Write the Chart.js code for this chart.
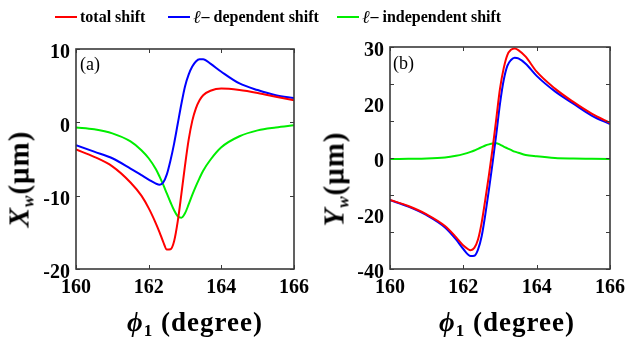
<!DOCTYPE html>
<html>
<head>
<meta charset="utf-8">
<script src="https://cdn.jsdelivr.net/npm/chart.js@4/dist/chart.umd.min.js"></script>
<style>
  body { margin:0; background:#fff; width:632px; height:341px; position:relative; overflow:hidden;
         font-family:"Liberation Serif","Times New Roman",serif; color:#000; }
  canvas { position:absolute; top:0; }
  #cA { left:0; }
  #cB { left:316px; }
  .item { position:absolute; top:7px; height:20px; display:flex; align-items:center; white-space:nowrap;
          font-weight:bold; font-size:16px; }
  .swatch { display:inline-block; width:22px; height:2px; margin-right:3px; }
  .ell { font-weight:normal; font-style:italic; font-size:18px; margin-right:1px; }
  .ytitle { position:absolute; transform:translate(-50%,-50%) rotate(-90deg); font-weight:bold;
            font-size:29px; letter-spacing:1px; white-space:nowrap; }
  .xtitle { position:absolute; transform:translate(-50%,-50%); font-weight:bold; font-size:27px;
            letter-spacing:1px; white-space:nowrap; }
  sub { font-size:17px; vertical-align:-5px; line-height:0; }
  .tag { position:absolute; font-size:18px; }
</style>
</head>
<body>
<canvas id="cA" width="316" height="341"></canvas>
<canvas id="cB" width="316" height="341"></canvas>

<!-- legend -->
<div class="item" style="left:55px"><span class="swatch" style="background:#ff0000"></span>total shift</div>
<div class="item" style="left:168px"><span class="swatch" style="background:#0000ff"></span><span class="ell">ℓ</span>– dependent shift</div>
<div class="item" style="left:337px"><span class="swatch" style="background:#00ee00"></span><span class="ell">ℓ</span>– independent shift</div>

<!-- panel tags & axis titles -->
<div class="tag" style="left:80px;top:54px">(a)</div>
<div class="tag" style="left:393px;top:53px">(b)</div>
<div class="ytitle" style="left:19px;top:179px"><i>X</i><sub><i>w</i></sub>(μm)</div>
<div class="ytitle" style="left:334px;top:179px"><i>Y</i><sub><i>w</i></sub>(μm)</div>
<div class="xtitle" style="left:195px;top:322px"><i>ϕ</i><sub>1</sub> (degree)</div>
<div class="xtitle" style="left:507px;top:322px"><i>ϕ</i><sub>1</sub> (degree)</div>

<script>
/* ── DATA ───────────────────────────────────────────────── */
const angles = [160, 160.5, 161, 161.5, 161.8, 162, 162.2, 162.3, 162.4, 162.5, 162.6, 162.7, 162.8,
                162.9, 163.0, 163.1, 163.2, 163.3, 163.4, 163.5, 163.7, 164, 164.5, 165, 165.5, 166];

// panel (a): Xw (μm)
const totalA = [-3.7, -4.7, -6.0, -8.2, -10.0, -11.7, -13.8, -15.0, -16.3, -17.35, -17.3, -16.2, -13.5,
                -9.8, -5.9, -2.4, 0.2, 1.9, 3.0, 3.7, 4.3, 4.6, 4.4, 4.0, 3.5, 3.0];
const depA   = [-3.1, -4.0, -4.9, -6.3, -7.2, -7.8, -8.35, -8.5, -8.2, -7.1, -5.2, -2.9, -0.2,
                2.5, 4.9, 6.5, 7.6, 8.3, 8.6, 8.6, 8.0, 6.9, 5.3, 4.4, 3.7, 3.3];
const indepA = [-0.7, -0.95, -1.5, -2.6, -3.8, -4.9, -6.4, -7.4, -8.5, -9.7, -10.9, -12.0, -12.8,
                -13.0, -12.4, -11.2, -9.9, -8.7, -7.6, -6.6, -5.1, -3.4, -1.9, -1.1, -0.7, -0.4];

// panel (b): Yw (μm)
const totalB = [-15.1, -17.3, -20.3, -24.5, -28.5, -31.5, -33.2, -32.4, -29.4, -23.3, -14.9, -6.0, 3.6,
                14.3, 25.0, 32.3, 37.1, 39.0, 39.5, 38.9, 36.5, 31.1, 25.0, 20.2, 16.0, 12.7];
const depB   = [-15.2, -17.5, -20.6, -25.0, -29.3, -32.8, -35.3, -35.2, -33.0, -28.2, -20.3, -11.2, -1.6,
                8.7, 19.6, 28.0, 33.2, 35.3, 36.1, 35.9, 34.0, 29.6, 24.0, 19.6, 15.3, 12.2];
const indepB = [-0.4, -0.3, -0.2, 0.2, 0.8, 1.4, 2.2, 2.7, 3.3, 3.9, 4.5, 4.9, 5.2,
                5.3, 4.8, 4.1, 3.5, 2.9, 2.3, 1.9, 1.1, 0.6, 0.0, -0.2, -0.3, -0.4];

const xTicks       = [160, 162, 164, 166];
const yTicksA      = [-20, -10, 0, 10];
const yTicksB      = [-40, -20, 0, 20, 40];
const yTickLabelsB = ["-40", "-20", "0", "20", "30"];   // as printed on the figure
const yMinorB      = [-40, -26.67, -13.33, 0, 13.33, 26.67, 40];

/* ── BOX + INWARD TICKS ─────────────────────────────────── */
const boxPlugin = {
  id: "box",
  afterDraw(chart, args, opts) {
    const { ctx, chartArea: a, scales: { x, y } } = chart;
    ctx.save();
    ctx.strokeStyle = "#3a3a3a";
    ctx.lineWidth = 1;
    ctx.beginPath();
    opts.xTicks.forEach(v => {
      const px = Math.round(x.getPixelForValue(v)) + 0.5;
      ctx.moveTo(px, a.bottom); ctx.lineTo(px, a.bottom - 4);
      ctx.moveTo(px, a.top);    ctx.lineTo(px, a.top + 4);
    });
    opts.yTicks.forEach(v => {
      const py = Math.round(y.getPixelForValue(v)) + 0.5;
      ctx.moveTo(a.left, py);  ctx.lineTo(a.left + 4, py);
      ctx.moveTo(a.right, py); ctx.lineTo(a.right - 4, py);
    });
    ctx.stroke();
    ctx.lineWidth = 1.6;
    ctx.strokeRect(a.left, a.top, a.right - a.left, a.bottom - a.top);
    ctx.restore();
  }
};

const tickFont = { family: "'Liberation Serif', 'Times New Roman', serif", size: 20, weight: "bold" };

function series(vals) {
  return angles.map((a, i) => ({ x: a, y: vals[i] }));
}

function makeChart(id, sets, cfg) {
  return new Chart(document.getElementById(id), {
    type: "line",
    data: {
      datasets: sets.map(s => ({
        data: series(s.vals),
        borderColor: s.color,
        borderWidth: 2,
        pointRadius: 0,
        fill: false,
        cubicInterpolationMode: "monotone"
      }))
    },
    options: {
      responsive: false,
      animation: false,
      layout: { padding: { top: cfg.top, right: cfg.right, bottom: 0, left: 0 } },
      plugins: {
        legend: { display: false },
        tooltip: { enabled: false },
        box: { xTicks: xTicks, yTicks: cfg.minor }
      },
      scales: {
        x: {
          type: "linear", min: 160, max: 166,
          afterBuildTicks: s => { s.ticks = xTicks.map(v => ({ value: v })); },
          afterFit: s => { s.height = 341 - 269; },
          grid: { display: false, drawTicks: false },
          border: { display: false },
          ticks: { color: "#000", font: tickFont, padding: 7, maxRotation: 0 }
        },
        y: {
          min: cfg.min, max: cfg.max,
          afterBuildTicks: s => { s.ticks = cfg.ticks.map(v => ({ value: v })); },
          afterFit: s => { s.width = cfg.yw; },
          grid: { display: false, drawTicks: false },
          border: { display: false },
          ticks: {
            color: "#000", font: tickFont, padding: 6, labelOffset: 4,
            callback: v => cfg.labels ? cfg.labels[cfg.ticks.indexOf(v)] : String(v)
          }
        }
      }
    },
    plugins: [boxPlugin]
  });
}

makeChart("cA", [
  { vals: totalA, color: "#ff0000" },
  { vals: depA,   color: "#0000ff" },
  { vals: indepA, color: "#00ee00" }
], { top: 49, right: 18, yw: 76, min: -20, max: 10, ticks: yTicksA, minor: yTicksA });

makeChart("cB", [
  { vals: totalB, color: "#ff0000" },
  { vals: depB,   color: "#0000ff" },
  { vals: indepB, color: "#00ee00" }
], { top: 47, right: 21, yw: 74, min: -40, max: 40, ticks: yTicksB, labels: yTickLabelsB, minor: yMinorB });
</script>
</body>
</html>
